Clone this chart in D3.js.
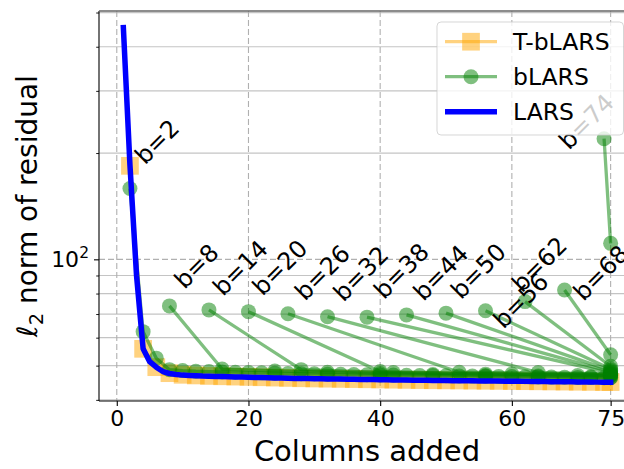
<!DOCTYPE html>
<html><head><meta charset="utf-8">
<script src="https://cdn.jsdelivr.net/npm/d3@7"></script>
<style>body{margin:0;background:#fff} svg{display:block;font-family:"DejaVu Sans",sans-serif}</style>
</head><body><svg id="c" width="624" height="469"></svg>
<script>
// ---------- data ----------
const xTicks = [0, 20, 40, 60, 75];
const yMajorTicks = [100];
const yMinorTicks = [40, 50, 60, 70, 80, 90, 200, 300, 400, 500];
const batchSizes = [2, 8, 14, 20, 26, 32, 38, 44, 50, 56, 62, 68, 74];
const lastColumn = 75;

// LARS residual after 1..75 columns
const larsResidual = [
  453, 185, 90, 55.8, 51.3, 49.5, 48.1, 47.5, 47.2, 47.0,
  46.9, 46.8, 46.7, 46.65, 46.6, 46.55, 46.5, 46.45, 46.4, 46.35,
  46.3, 46.25, 46.2, 46.15, 46.1, 46.05, 46.0, 45.97, 45.94, 45.91,
  45.88, 45.85, 45.82, 45.79, 45.76, 45.73, 45.7, 45.67, 45.64, 45.61,
  45.58, 45.55, 45.52, 45.49, 45.46, 45.44, 45.42, 45.4, 45.38, 45.36,
  45.34, 45.32, 45.3, 45.28, 45.26, 45.24, 45.22, 45.2, 45.18, 45.16,
  45.14, 45.12, 45.1, 45.08, 45.06, 45.04, 45.02, 45.0, 44.98, 44.96,
  44.94, 44.92, 44.9, 44.88, 44.86
];

// T-bLARS (b=2) residual at columns 2,4,...,74,75
const tblarsResidual = [
  184, 55.8, 49.5, 47.6, 47.1, 46.9, 46.75, 46.65, 46.55, 46.45,
  46.35, 46.25, 46.15, 46.05, 45.98, 45.92, 45.86, 45.8, 45.74, 45.68,
  45.62, 45.56, 45.5, 45.46, 45.42, 45.38, 45.34, 45.3, 45.26, 45.22,
  45.18, 45.14, 45.1, 45.06, 45.02, 44.98, 44.94, 44.92
];

// bLARS residual at columns b, 2b, 3b, ..., 75 for each batch size
const blarsB2 = [
  158.7, 62.4, 52.5, 48.7, 48.4, 48.2, 48.1, 48.0, 47.9, 47.8,
  47.7, 47.6, 47.5, 47.45, 47.4, 47.3, 47.25, 47.2, 47.1, 47.05,
  47.0, 46.95, 46.9, 46.85, 46.8, 46.75, 46.7, 46.65, 46.6, 46.55,
  46.5, 46.45, 46.4, 46.35, 46.3, 46.25, 46.2, 46.2
];
const blarsB8 = [73.8, 48.9, 48.3, 47.9, 47.5, 47.2, 46.9, 46.7, 46.5, 46.4];
const blarsB14 = [71.9, 48.7, 47.8, 47.3, 46.9, 46.8];
const blarsB20 = [71.1, 48.1, 47.3, 47.0];
const blarsB26 = [70.1, 47.9, 47.2];
const blarsB32 = [68.8, 47.8, 47.4];
const blarsB38 = [68.6, 47.6];
const blarsB44 = [69.6, 48.0];
const blarsB50 = [70.4, 48.4];
const blarsB56 = [71.5, 48.9];
const blarsB62 = [75.9, 49.8];
const blarsB68 = [81.9, 53.7];
const blarsB74 = [219.6, 111];
const blarsSeries = [blarsB2, blarsB8, blarsB14, blarsB20, blarsB26, blarsB32, blarsB38,
                     blarsB44, blarsB50, blarsB56, blarsB62, blarsB68, blarsB74];

// ---------- layout ----------
const M = {left: 99, right: 635, top: 11, bottom: 401};
// annotation offsets (pixels, relative to the first bLARS point)
const labelOffsets = {2:[15,-23], 8:[15,-16], 14:[14,-13], 20:[14,-15], 26:[17,-12], 32:[16,-14],
  38:[17,-17], 44:[17,-13], 50:[15,-13], 56:[18,19], 62:[-3,-8], 68:[19,12], 74:[-35,12]};

const ORANGE = "#ffa500", GREEN = "#008000", BLUE = "#0000ff";

const svg = d3.select("#c");
const x = d3.scaleLinear().domain([-2.7, 78.7]).range([M.left, M.right]);
const y = d3.scaleLog().domain([39.7, 505]).range([M.bottom, M.top]);

// multiples of b up to the last column
function columnsFor(b, n) {
  const cols = [];
  for (let i = 1; i <= n; i++) cols.push(Math.min(b * i, lastColumn));
  return cols;
}

// grid
const grid = svg.append("g");
grid.selectAll(".ymin").data(yMinorTicks).join("line")
  .attr("x1", M.left).attr("x2", M.right)
  .attr("y1", d => y(d)).attr("y2", d => y(d))
  .attr("stroke", "#c4c4c4").attr("stroke-width", 1.2);
grid.selectAll(".ymaj").data(yMajorTicks).join("line")
  .attr("x1", M.left).attr("x2", M.right)
  .attr("y1", d => y(d)).attr("y2", d => y(d))
  .attr("stroke", "#b0b0b0").attr("stroke-width", 1.1).attr("stroke-dasharray", "6,3");
grid.selectAll(".xmaj").data(xTicks).join("line")
  .attr("x1", d => x(d)).attr("x2", d => x(d))
  .attr("y1", M.top).attr("y2", M.bottom)
  .attr("stroke", "#b0b0b0").attr("stroke-width", 1.1).attr("stroke-dasharray", "6,3");

// clip
svg.append("clipPath").attr("id", "clip").append("rect")
  .attr("x", M.left).attr("y", M.top).attr("width", M.right - M.left).attr("height", M.bottom - M.top);
const plot = svg.append("g").attr("clip-path", "url(#clip)");

const line = d3.line().x(d => x(d[0])).y(d => y(d[1]));

// T-bLARS
const tPts = columnsFor(2, tblarsResidual.length).map((c, i) => [c, tblarsResidual[i]]);
plot.append("path").attr("d", line(tPts)).attr("fill", "none")
  .attr("stroke", ORANGE).attr("stroke-opacity", 0.5).attr("stroke-width", 3.3).attr("stroke-linejoin", "round");
const sq = 17.7;
plot.selectAll(".tsq").data(tPts).join("rect")
  .attr("x", d => x(d[0]) - sq / 2).attr("y", d => y(d[1]) - sq / 2)
  .attr("width", sq).attr("height", sq).attr("fill", ORANGE).attr("fill-opacity", 0.5);

// bLARS
batchSizes.forEach((b, k) => {
  const vals = blarsSeries[k];
  const pts = columnsFor(b, vals.length).map((c, i) => [c, vals[i]]);
  plot.append("path").attr("d", line(pts)).attr("fill", "none")
    .attr("stroke", GREEN).attr("stroke-opacity", 0.5).attr("stroke-width", 3.3).attr("stroke-linejoin", "round");
  plot.selectAll(null).data(pts).join("circle")
    .attr("cx", d => x(d[0])).attr("cy", d => y(d[1])).attr("r", 7.5)
    .attr("fill", GREEN).attr("fill-opacity", 0.5);
});

// LARS
const lPts = larsResidual.map((v, i) => [i + 1, v]);
plot.append("path").attr("d", line(lPts)).attr("fill", "none")
  .attr("stroke", BLUE).attr("stroke-width", 5.5).attr("stroke-linejoin", "round").attr("stroke-linecap", "square");

// spines
const sp = svg.append("g").attr("stroke", "#000").attr("stroke-width", 1.1);
sp.append("line").attr("x1", M.left).attr("x2", M.left).attr("y1", M.top).attr("y2", M.bottom);
sp.append("line").attr("x1", M.left).attr("x2", M.right).attr("y1", M.bottom).attr("y2", M.bottom);
sp.append("line").attr("x1", M.left).attr("x2", M.right).attr("y1", M.top).attr("y2", M.top).attr("stroke", "#666").attr("stroke-width", 1.6);

// x axis
const xa = svg.append("g").attr("transform", `translate(0,${M.bottom})`)
  .call(d3.axisBottom(x).tickValues(xTicks).tickSize(5).tickPadding(4).tickFormat(d3.format("d")));
xa.select(".domain").remove();
xa.selectAll("line").attr("stroke-width", 1.1);
xa.selectAll("text").attr("font-size", 22).attr("font-family", "DejaVu Sans").attr("fill", "#000").attr("dy", "0.71em");

// y axis ticks
const ya = svg.append("g").attr("transform", `translate(${M.left},0)`)
  .call(d3.axisLeft(y).tickValues(yMajorTicks).tickSize(5).tickFormat(""));
ya.select(".domain").remove();
ya.selectAll("line").attr("stroke-width", 1.1);
const yaMin = svg.append("g").attr("transform", `translate(${M.left},0)`)
  .call(d3.axisLeft(y).tickValues(yMinorTicks).tickSize(2.8).tickFormat(""));
yaMin.select(".domain").remove();
yaMin.selectAll("line").attr("stroke-width", 0.9);
yMajorTicks.forEach(v => {
  const t = svg.append("text").attr("x", 89).attr("y", y(v) + 8).attr("text-anchor", "end")
    .attr("font-size", 22);
  t.append("tspan").text("10");
  t.append("tspan").attr("dy", -9).attr("font-size", 15.5).text(String(Math.round(Math.log10(v))));
});

// axis labels
svg.append("text").attr("x", (M.left + M.right) / 2).attr("y", 461).attr("text-anchor", "middle")
  .attr("font-size", 29).text("Columns added");
const yl = svg.append("text").attr("transform", `translate(37,${(M.top + M.bottom) / 2}) rotate(-90)`)
  .attr("text-anchor", "middle").attr("font-size", 28);
yl.append("tspan").text("ℓ");
yl.append("tspan").attr("font-size", 19.5).attr("dy", 6).text("2");
yl.append("tspan").attr("dy", -6).text(" norm of residual");

// annotations
batchSizes.forEach((b, k) => {
  const off = labelOffsets[b];
  const px = x(b) + off[0], py = y(blarsSeries[k][0]) + off[1];
  svg.append("text").attr("transform", `translate(${px},${py}) rotate(-45)`)
    .attr("font-size", 24).attr("fill", "#000").text(`b=${b}`);
});

// legend
const lg = svg.append("g");
lg.append("rect").attr("x", 437).attr("y", 22).attr("width", 186.5).attr("height", 113).attr("rx", 4)
  .attr("fill", "#fff").attr("fill-opacity", 0.8).attr("stroke", "#ccc").attr("stroke-opacity", 0.8);
const entries = [
  {name: "T-bLARS", color: ORANGE, lw: 3.3, op: 0.5, marker: "square"},
  {name: "bLARS", color: GREEN, lw: 3.3, op: 0.5, marker: "circle"},
  {name: "LARS", color: BLUE, lw: 5.5, op: 1, marker: null}
];
entries.forEach((e, i) => {
  const cy = 41.7 + i * 35;
  lg.append("line").attr("x1", 445).attr("x2", 497).attr("y1", cy).attr("y2", cy)
    .attr("stroke", e.color).attr("stroke-opacity", e.op).attr("stroke-width", e.lw);
  if (e.marker === "square") lg.append("rect").attr("x", 471 - sq / 2).attr("y", cy - sq / 2)
    .attr("width", sq).attr("height", sq).attr("fill", e.color).attr("fill-opacity", e.op);
  if (e.marker === "circle") lg.append("circle").attr("cx", 471).attr("cy", cy).attr("r", 7.5)
    .attr("fill", e.color).attr("fill-opacity", e.op);
  lg.append("text").attr("x", 513).attr("y", cy + 8.5).attr("font-size", 23.5).text(e.name);
});
</script></body></html>
